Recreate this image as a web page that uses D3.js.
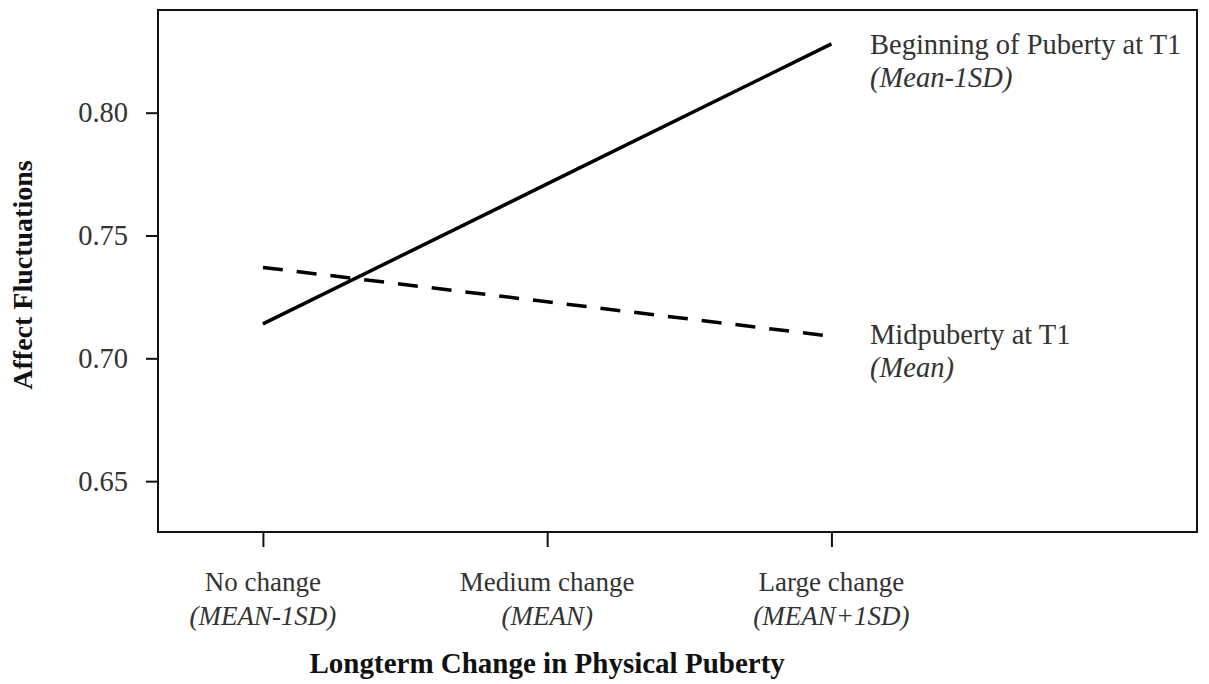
<!DOCTYPE html>
<html>
<head>
<meta charset="utf-8">
<script src="https://cdn.jsdelivr.net/npm/d3@7"></script>
<style>
  html, body { margin: 0; padding: 0; background: #fff; }
  svg { display: block; }
</style>
</head>
<body>
<svg id="chart" width="1209" height="684"></svg>
<script>
// ---- data ----
const xValues = [-1, 0, 1];
const categories = ["No change", "Medium change", "Large change"];
const subLabels = ["(MEAN-1SD)", "(MEAN)", "(MEAN+1SD)"];
const beginningValues = [0.714, 0.771, 0.828];
const midValues = [0.737, 0.723, 0.709];
const yTicks = [0.65, 0.70, 0.75, 0.80];
const seriesNames = ["Beginning of Puberty at T1", "Midpuberty at T1"];
const seriesSubs = ["(Mean-1SD)", "(Mean)"];

// ---- layout ----
const W = 1209, H = 684;
const plot = { left: 158, top: 10, right: 1197, bottom: 532 };
const font = "'Liberation Serif', 'Times New Roman', serif";
const textColor = "#333";

const svg = d3.select("#chart");

const x = d3.scaleLinear().domain([-1.369, 2.286]).range([plot.left, plot.right]);
const y = d3.scaleLinear().domain([0.6293, 0.8418]).range([plot.bottom, plot.top]);

// frame
svg.append("rect")
  .attr("x", plot.left).attr("y", plot.top)
  .attr("width", plot.right - plot.left).attr("height", plot.bottom - plot.top)
  .attr("fill", "none").attr("stroke", "#111").attr("stroke-width", 2);

// y axis
const yAxis = svg.append("g")
  .attr("transform", `translate(${plot.left},0)`)
  .call(d3.axisLeft(y).tickValues(yTicks).tickFormat(d3.format(".2f")).tickSize(12).tickPadding(18));
yAxis.select(".domain").remove();
yAxis.selectAll(".tick line").attr("stroke", "#111").attr("stroke-width", 2);
yAxis.selectAll(".tick text")
  .attr("font-family", font).attr("font-size", 28.5).attr("fill", textColor);

// x axis
const xAxis = svg.append("g")
  .attr("transform", `translate(0,${plot.bottom})`)
  .call(d3.axisBottom(x).tickValues(xValues).tickSize(15).tickFormat(""));
xAxis.select(".domain").remove();
xAxis.selectAll(".tick line").attr("stroke", "#111").attr("stroke-width", 2);

// x tick labels (two lines)
const xl = svg.append("g").selectAll("text").data(xValues).join("text")
  .attr("x", d => x(d))
  .attr("y", 591)
  .attr("text-anchor", "middle")
  .attr("font-family", font).attr("font-size", 27).attr("fill", textColor);
xl.append("tspan").attr("x", d => x(d)).text((d, i) => categories[i]);
xl.append("tspan").attr("x", d => x(d)).attr("dy", 34)
  .attr("font-style", "italic").text((d, i) => subLabels[i]);

// lines
const line = d3.line().x((d, i) => x(xValues[i])).y(d => y(d));
svg.append("path").datum(beginningValues)
  .attr("d", line).attr("fill", "none")
  .attr("stroke", "#000").attr("stroke-width", 3.5);
svg.append("path").datum(midValues)
  .attr("d", line).attr("fill", "none")
  .attr("stroke", "#000").attr("stroke-width", 3.5)
  .attr("stroke-dasharray", "20,14");

// series labels
const seriesLabelY = [54, 344];
seriesNames.forEach((name, i) => {
  const t = svg.append("text")
    .attr("x", 870).attr("y", seriesLabelY[i])
    .attr("font-family", font).attr("font-size", 28.5).attr("fill", textColor);
  t.append("tspan").attr("x", 870).text(name);
  t.append("tspan").attr("x", 870).attr("dy", 33).attr("font-style", "italic").text(seriesSubs[i]);
});

// axis titles
svg.append("text")
  .attr("x", (x(-1) + x(1)) / 2).attr("y", 673)
  .attr("text-anchor", "middle")
  .attr("font-family", font).attr("font-size", 29).attr("font-weight", "bold").attr("fill", "#111")
  .text("Longterm Change in Physical Puberty");

svg.append("text")
  .attr("transform", `translate(32,${(plot.top + plot.bottom) / 2 + 4}) rotate(-90)`)
  .attr("text-anchor", "middle")
  .attr("font-family", font).attr("font-size", 28).attr("font-weight", "bold").attr("fill", "#111")
  .text("Affect Fluctuations");
</script>
</body>
</html>
